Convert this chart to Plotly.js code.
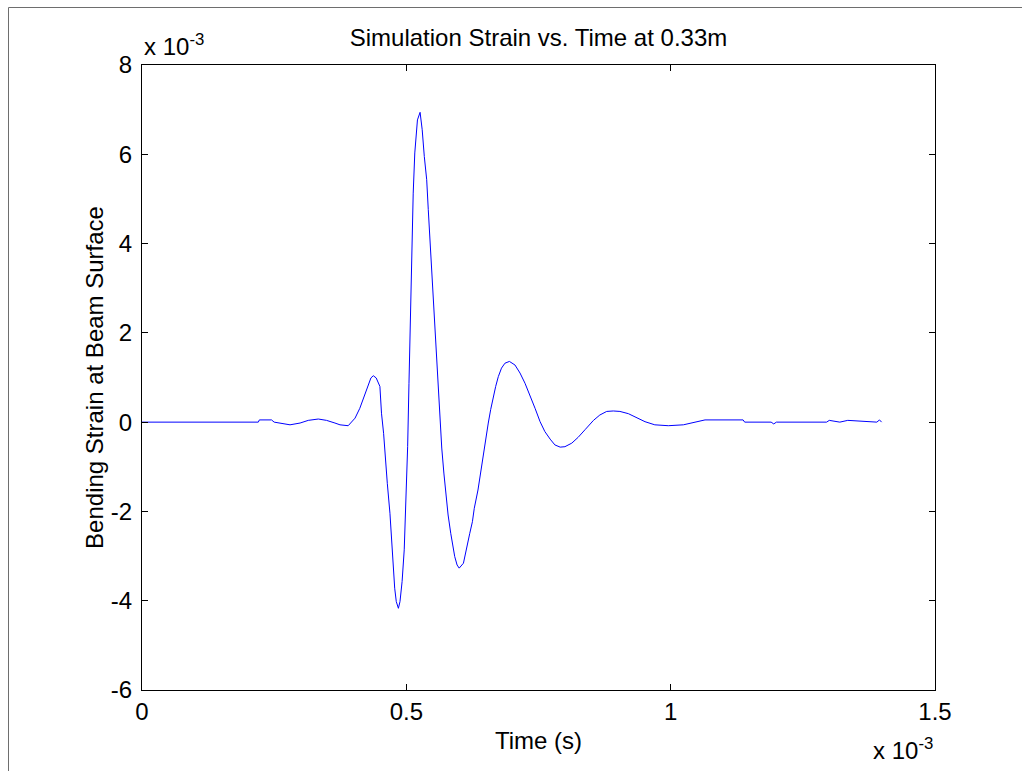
<!DOCTYPE html>
<html>
<head>
<meta charset="utf-8">
<script src="https://cdn.plot.ly/plotly-3.0.1.min.js"></script>
<style>
html,body{margin:0;padding:0;background:#fff;}
#chart{width:1022px;height:771px;}
</style>
</head>
<body>
<div id="chart"></div>
<script>
// Time in units of 1e-3 s, strain in units of 1e-3
var timeE3 = [
  0.000, 0.220, 0.222, 0.245, 0.250, 0.261, 0.280, 0.299, 0.3145, 0.3335, 0.349, 0.365, 0.3745, 0.390,
  0.403, 0.412, 0.420, 0.426, 0.433, 0.4375, 0.443, 0.450, 0.453, 0.457, 0.460, 0.464, 0.469, 0.472,
  0.475, 0.478, 0.481, 0.485, 0.488, 0.492, 0.496, 0.499, 0.5025, 0.505, 0.5075, 0.510, 0.513, 0.516,
  0.521, 0.526, 0.530, 0.534, 0.5385, 0.5415, 0.545, 0.548, 0.551, 0.554, 0.5575, 0.5605, 0.564, 0.567,
  0.571, 0.575, 0.579, 0.584, 0.588, 0.5915, 0.596, 0.600, 0.608, 0.614, 0.620, 0.625, 0.6285, 0.6355,
  0.641, 0.647, 0.651, 0.655, 0.6595, 0.6645, 0.669, 0.674, 0.680, 0.6865, 0.695, 0.7055, 0.715, 0.7245,
  0.734, 0.7435, 0.753, 0.762, 0.772, 0.781, 0.791, 0.800, 0.813, 0.825, 0.838, 0.854, 0.866, 0.879,
  0.8915, 0.904, 0.920, 0.936, 0.9515, 0.970, 0.9955, 1.024, 1.043, 1.052, 1.065, 1.137, 1.140, 1.190,
  1.195, 1.200, 1.210, 1.295, 1.300, 1.320, 1.335, 1.390, 1.395, 1.399
];
var strainE3 = [
  0.00, 0.00, 0.05, 0.05, 0.00, -0.02, -0.06, -0.02, 0.04, 0.07, 0.04, -0.02, -0.06, -0.08,
  0.09, 0.31, 0.57, 0.80, 0.99, 1.04, 0.99, 0.80, 0.20, -0.25, -0.81, -1.37, -2.04, -2.64,
  -3.24, -3.72, -4.02, -4.17, -4.02, -3.57, -2.86, -1.81, -0.55, 0.87, 2.44, 3.79, 5.13, 6.03,
  6.77, 6.94, 6.55, 5.95, 5.43, 4.76, 4.01, 3.34, 2.59, 1.92, 1.25, 0.61, -0.02, -0.58,
  -1.14, -1.63, -2.08, -2.49, -2.79, -3.01, -3.20, -3.27, -3.16, -2.86, -2.49, -2.23, -1.93, -1.52,
  -1.07, -0.62, -0.28, -0.02, 0.28, 0.57, 0.80, 1.02, 1.21, 1.32, 1.36, 1.28, 1.10, 0.87,
  0.61, 0.31, 0.01, -0.21, -0.38, -0.51, -0.56, -0.55, -0.47, -0.34, -0.17, 0.04, 0.16, 0.24,
  0.25, 0.24, 0.19, 0.09, 0.01, -0.06, -0.08, -0.06, -0.01, 0.01, 0.05, 0.05, 0.00, 0.00,
  -0.04, 0.00, 0.00, 0.00, 0.04, 0.00, 0.04, 0.00, 0.05, 0.00
];
var xTickVals = [0, 0.5, 1, 1.5];
var xTickText = ["0", "0.5", "1", "1.5"];
var yTickVals = [-6, -4, -2, 0, 2, 4, 6, 8];
var yTickText = ["-6", "-4", "-2", "0", "2", "4", "6", "8"];

var FONT = "Liberation Sans, Arial, Helvetica, sans-serif";
var FS = 24;

// plot area in pixels: left 142, right 935, top 65, bottom 690
var L = 142, R = 935, T = 65, B = 690;
function px(x){ return (x - L) / (R - L); }
function py(y){ return (B - y) / (B - T); }

var trace = {
  x: timeE3, y: strainE3, type: "scatter", mode: "lines",
  line: {color: "#0000ff", width: 1}, hoverinfo: "skip"
};

var axisCommon = {
  showgrid: false, zeroline: false, showline: true, linecolor: "#000", linewidth: 1,
  mirror: "ticks", ticks: "inside", ticklen: 6, tickcolor: "#000", tickwidth: 1,
  tickfont: {family: FONT, size: FS, color: "#000"}, tickmode: "array"
};

var layout = {
  width: 1022, height: 771,
  margin: {l: L, r: 1022 - R, t: T, b: 771 - B, pad: 0},
  paper_bgcolor: "#fff", plot_bgcolor: "#fff",
  showlegend: false,
  title: {text: "Simulation Strain vs. Time at 0.33m", font: {family: FONT, size: FS, color: "#000"},
          x: 0.5, xref: "paper", y: 1 - 38/771, yanchor: "middle"},
  xaxis: Object.assign({}, axisCommon, {
    range: [0, 1.5], tickvals: xTickVals, ticktext: xTickText,
    title: {text: "Time (s)", font: {family: FONT, size: FS, color: "#000"}, standoff: 8}
  }),
  yaxis: Object.assign({}, axisCommon, {
    range: [-6, 8], tickvals: yTickVals, ticktext: yTickText, ticklabelstandoff: 4,
    title: {text: "Bending Strain at Beam Surface", font: {family: FONT, size: FS, color: "#000"}, standoff: 0}
  }),
  annotations: [
    {xref: "paper", yref: "paper", x: 0, y: py(62), xanchor: "left", yanchor: "bottom",
     text: "x 10<sup>-3</sup>", showarrow: false, font: {family: FONT, size: FS, color: "#000"}},
    {xref: "paper", yref: "paper", x: 1, y: py(732), xanchor: "right", yanchor: "top",
     text: "x 10<sup>-3</sup>", showarrow: false, font: {family: FONT, size: FS, color: "#000"}}
  ],
  shapes: [
    {type: "line", xref: "paper", yref: "paper", x0: px(8.5), x1: px(8.5), y0: py(771), y1: py(7.5),
     line: {color: "#6e6e6e", width: 1}},
    {type: "line", xref: "paper", yref: "paper", x0: px(8.5), x1: px(1022), y0: py(7.5), y1: py(7.5),
     line: {color: "#6e6e6e", width: 1}}
  ]
};

Plotly.newPlot("chart", [trace], layout, {displayModeBar: false, staticPlot: true});
</script>
</body>
</html>
